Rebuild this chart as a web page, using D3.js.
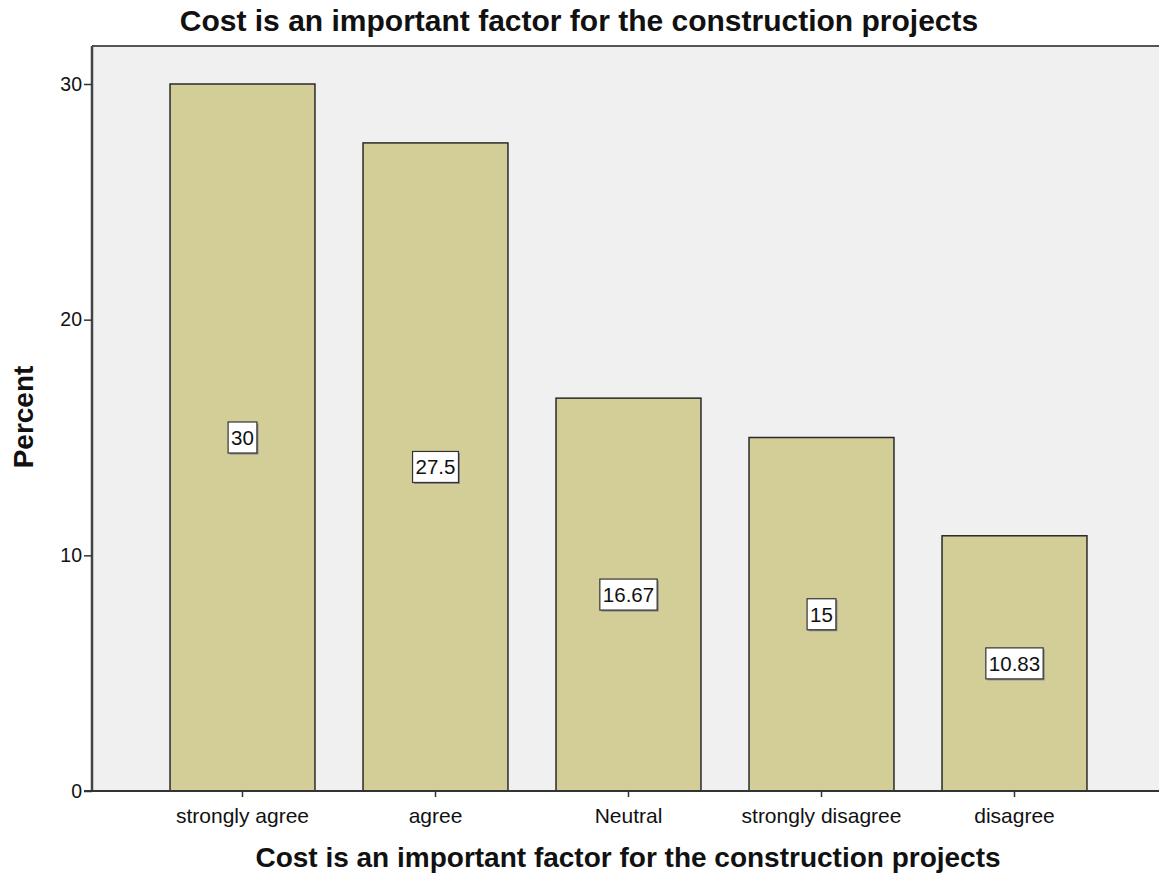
<!DOCTYPE html>
<html>
<head>
<meta charset="utf-8">
<script src="https://cdn.jsdelivr.net/npm/d3@7"></script>
<style>
  body { margin: 0; background: #fff; }
  text { font-family: Arial, "Liberation Sans", sans-serif; fill: #111; }
</style>
</head>
<body>
<svg id="chart"></svg>
<script>
var categories = ["strongly agree", "agree", "Neutral", "strongly disagree", "disagree"];
var percents = [30, 27.5, 16.67, 15, 10.83];
var yTicks = [0, 10, 20, 30];
var title = "Cost is an important factor for the construction projects";

var width = 1159,
    height = 875;

var plotLeft = 92, plotTop = 46, plotBottom = 791;

var svg = d3.select("#chart")
    .attr("width", width)
    .attr("height", height);

var x = d3.scaleBand()
    .domain(categories)
    .range([146, 1111])
    .paddingInner(0.249)
    .paddingOuter(0.1245);

var y = d3.scaleLinear()
    .domain([0, 30])
    .range([plotBottom, 84]);

// plot background
svg.append("rect")
    .attr("x", plotLeft)
    .attr("y", plotTop)
    .attr("width", width - plotLeft + 10)
    .attr("height", plotBottom - plotTop)
    .style("fill", "#f0f0f0");

// top frame line
svg.append("line")
    .attr("x1", plotLeft).attr("x2", width)
    .attr("y1", plotTop).attr("y2", plotTop)
    .style("stroke", "#555").style("stroke-width", 2);

// bars
svg.selectAll(".bar")
    .data(percents)
    .enter().append("rect")
    .attr("class", "bar")
    .attr("x", (d, i) => x(categories[i]))
    .attr("y", d => y(d))
    .attr("width", x.bandwidth())
    .attr("height", d => y(0) - y(d))
    .style("fill", "#d3ce97")
    .style("stroke", "#2a2a2a")
    .style("stroke-width", 1.5);

// value labels in boxes at bar middle
var fmt = d3.format(".4~g");
var lab = svg.selectAll(".lab")
    .data(percents)
    .enter().append("g")
    .attr("class", "lab")
    .attr("transform", (d, i) => "translate(" + (x(categories[i]) + x.bandwidth() / 2) + "," + y(d / 2) + ")");

lab.append("text")
    .attr("text-anchor", "middle")
    .attr("dy", "0.36em")
    .style("font-size", "20.5px")
    .text(d => fmt(d));

lab.each(function() {
    var g = d3.select(this);
    var bb = g.select("text").node().getBBox();
    var w = bb.width + 6, h = 31;
    g.insert("rect", "text")
        .attr("x", -w / 2 + 1.5).attr("y", -h / 2 + 1.5)
        .attr("width", w).attr("height", h)
        .style("fill", "#888");
    g.insert("rect", "text")
        .attr("x", -w / 2).attr("y", -h / 2)
        .attr("width", w).attr("height", h)
        .style("fill", "#fff")
        .style("stroke", "#333")
        .style("stroke-width", 1.2);
});

// y axis
var yAxis = svg.append("g")
    .attr("transform", "translate(" + plotLeft + ",0)")
    .call(d3.axisLeft(y).tickValues(yTicks).tickSize(8).tickPadding(2).tickSizeOuter(0));
yAxis.select(".domain").attr("d", "M0," + plotTop + "V" + plotBottom)
    .style("stroke", "#444").style("stroke-width", 2.5);
yAxis.selectAll(".tick line").style("stroke", "#333").style("stroke-width", 1.5);
yAxis.selectAll(".tick text")
    .style("font-size", "19.5px")
    .style("font-family", "Arial, 'Liberation Sans', sans-serif")
    .style("fill", "#111");

// x axis
var xAxis = svg.append("g")
    .attr("transform", "translate(0," + plotBottom + ")")
    .call(d3.axisBottom(x).tickSize(6).tickPadding(11).tickSizeOuter(0));
xAxis.select(".domain").attr("d", "M" + (plotLeft - 8) + ",0H" + width)
    .style("stroke", "#333").style("stroke-width", 2);
xAxis.selectAll(".tick line").style("stroke", "#333").style("stroke-width", 1.5);
xAxis.selectAll(".tick text")
    .style("font-size", "21px")
    .style("font-family", "Arial, 'Liberation Sans', sans-serif")
    .style("fill", "#111");

// titles
svg.append("text")
    .attr("x", 579)
    .attr("y", 31)
    .attr("text-anchor", "middle")
    .style("font-size", "30px")
    .style("font-weight", "bold")
    .text(title);

svg.append("text")
    .attr("x", 628)
    .attr("y", 867)
    .attr("text-anchor", "middle")
    .style("font-size", "28px")
    .style("font-weight", "bold")
    .text(title);

svg.append("text")
    .attr("transform", "translate(33,417) rotate(-90)")
    .attr("text-anchor", "middle")
    .style("font-size", "28px")
    .style("font-weight", "bold")
    .text("Percent");
</script>
</body>
</html>
